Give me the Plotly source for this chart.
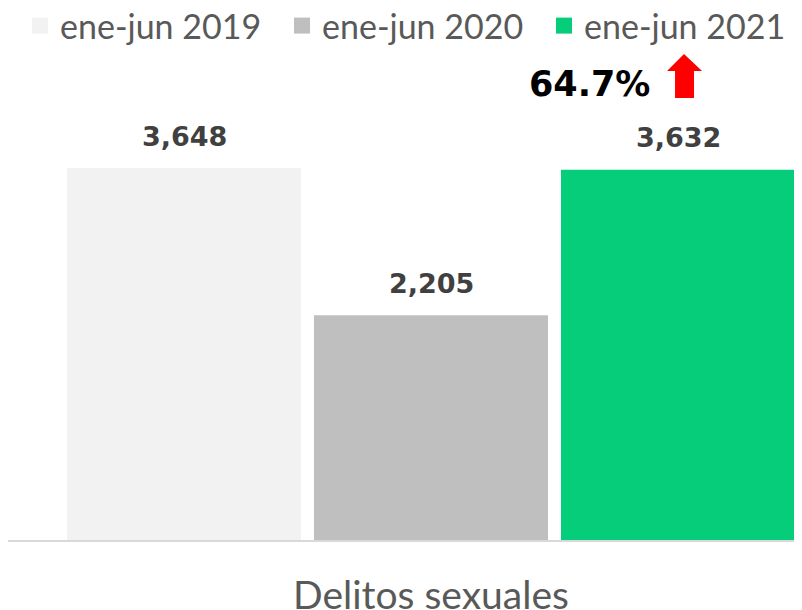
import plotly.graph_objects as go

categories = ["Delitos sexuales"]
series_names = ["ene-jun 2019", "ene-jun 2020", "ene-jun 2021"]
series_values = [[3648], [2205], [3632]]
series_colors = ["#f2f2f2", "#bfbfbf", "#05cd7a"]
change_label = "64.7%"

# the page body adds an 8px margin; figure sized to fit the window exactly
OFF = 8
W, H = 794, 602
ML, MR, MT, MB = 0, 0, 92, 70
PW, PH = W - ML - MR, H - MT - MB


def px(x_screen):
    return (x_screen - OFF - ML) / PW


def py(y_screen):
    return (H - MB - (y_screen - OFF)) / PH


BAR_STEP = 247  # px between bar centres in the group
fig = go.Figure()
annotations = []
for i, (name, vals, col) in enumerate(zip(series_names, series_values, series_colors)):
    fig.add_trace(go.Bar(
        x=categories, y=vals, name=name, marker_color=col,
        marker_line_width=0, showlegend=False, legendgroup=name,
    ))
    # legend entry with a larger square swatch
    fig.add_trace(go.Scatter(
        x=[categories[0]], y=[None], mode="markers", name=name, legendgroup=name,
        marker=dict(symbol="square", size=16, color=col), hoverinfo="skip",
    ))
    for c, v in zip(categories, vals):
        annotations.append(dict(
            x=c, y=v, xref="x", yref="y", text=f"{v:,}", showarrow=False,
            xshift=(i - 1) * BAR_STEP, yshift=32, xanchor="center", yanchor="middle",
            font=dict(family="DejaVu Sans", size=27, color="#404040", weight="bold"),
        ))

U = 741 / 0.9
centre = 431 - OFF
a = -(centre - ML) / U
b = (W - centre) / U

arrow = [(684, 54), (702, 71), (694, 71), (694, 98), (675, 98), (675, 71), (667, 71)]
path = "M " + " L ".join(f"{px(x):.4f},{py(y):.4f}" for x, y in arrow) + " Z"

annotations.append(dict(x=px(589), y=py(84), xref="paper", yref="paper",
                        xanchor="center", yanchor="middle",
                        text=change_label, showarrow=False,
                        font=dict(family="DejaVu Sans", size=35, color="black", weight="bold")))

fig.update_layout(
    width=W, height=H,
    margin=dict(l=ML, r=MR, t=MT, b=MB, autoexpand=False),
    paper_bgcolor="white", plot_bgcolor="white",
    barmode="group", bargap=0.1, bargroupgap=13 / 247,
    showlegend=True,
    legend=dict(orientation="h", x=px(20), xanchor="left", y=py(-3), yanchor="top",
                font=dict(family="Lato", size=34, color="#595959"),
                entrywidth=217, entrywidthmode="pixels", itemclick=False,
                bgcolor="rgba(0,0,0,0)", traceorder="normal"),
    xaxis=dict(range=[a, b], showline=True, linecolor="#d9d9d9", linewidth=2,
               ticks="", ticklabelstandoff=20,
               tickfont=dict(family="Lato", size=39, color="#595959")),
    yaxis=dict(range=[0, PH * 3648 / 372], visible=False, showgrid=False),
    annotations=annotations,
    shapes=[dict(type="path", xref="paper", yref="paper", path=path,
                 fillcolor="#ff0000", line=dict(width=0))],
)

fig.write_html("out.html")
